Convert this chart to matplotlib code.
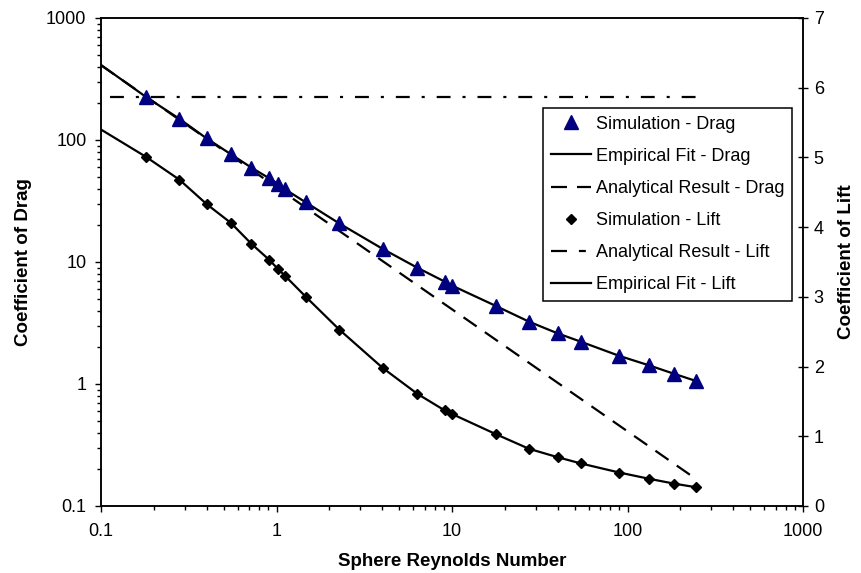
import matplotlib
matplotlib.use("Agg")
import matplotlib.pyplot as plt
from matplotlib.lines import Line2D
from matplotlib.ticker import LogLocator, NullFormatter, FixedLocator

plt.rcParams['font.family'] = ['Liberation Sans', 'DejaVu Sans']
plt.rcParams['lines.scale_dashes'] = False

# Simulation results (sphere Reynolds number, drag and lift coefficients)
re_sim = [0.18, 0.28, 0.40, 0.55, 0.72, 0.91, 1.02, 1.12, 1.47, 2.28, 4.03,
          6.34, 9.1, 10.0, 17.8, 27.5, 40.0, 54.3, 89.8, 133, 185, 245]
cd_sim = [226, 149, 103, 76.4, 59.3, 48.5, 43.6, 39.4, 30.8, 20.7, 12.8,
          8.98, 6.90, 6.41, 4.36, 3.24, 2.60, 2.22, 1.70, 1.42, 1.21, 1.06]
cl_sim = [5.01, 4.68, 4.33, 4.06, 3.76, 3.53, 3.40, 3.30, 3.00, 2.53, 1.98,
          1.61, 1.37, 1.32, 1.03, 0.82, 0.70, 0.61, 0.48, 0.39, 0.32, 0.27]

# Empirical fits
re_fit = [0.10] + re_sim
cd_fit = [412] + cd_sim
cl_fit = [5.40] + cl_sim

# Analytical results
re_an = [0.10, 245]
cd_an = [410, 0.167]
re_an_lift = [0.112, 250]
cl_an = [5.87, 5.87]

fig = plt.figure(figsize=(8.61, 5.73), dpi=100)
ax = fig.add_axes([101/861, 1 - 506/573, 702/861, 488/573])
ax2 = ax.twinx()

lw = 1.6
navy = '#000080'

# Drag on the logarithmic left axis
ax.plot(re_fit, cd_fit, color='black', lw=lw, zorder=2)
ax.plot(re_an, cd_an, color='black', lw=lw, dashes=(11.5, 7.2), zorder=2)
ax.plot(re_sim, cd_sim, linestyle='none', marker='^', ms=9.5, color=navy,
        mec=navy, zorder=3)

# Lift on the linear right axis
ax2.plot(re_fit, cl_fit, color='black', lw=lw, zorder=2)
ax2.plot(re_an_lift, cl_an, color='black', lw=lw,
         dashes=(10, 8.6, 2.2, 8.6), zorder=2)
ax2.plot(re_sim, cl_sim, linestyle='none', marker='D', ms=5.2, color='black',
         zorder=3)

ax.set_xscale('log')
ax.set_yscale('log')
ax.set_xlim(0.1, 1000)
ax.set_ylim(0.1, 1000)
ax2.set_ylim(0, 7)

ax.xaxis.set_major_locator(LogLocator(base=10, numticks=10))
ax.xaxis.set_minor_locator(LogLocator(base=10, subs=range(2, 10), numticks=20))
ax.xaxis.set_minor_formatter(NullFormatter())
ax.yaxis.set_major_locator(LogLocator(base=10, numticks=10))
ax.yaxis.set_minor_locator(LogLocator(base=10, subs=range(2, 10), numticks=20))
ax.yaxis.set_minor_formatter(NullFormatter())

ax.set_xticks([0.1, 1, 10, 100, 1000])
ax.set_xticklabels(['0.1', '1', '10', '100', '1000'])
ax.set_yticks([0.1, 1, 10, 100, 1000])
ax.set_yticklabels(['0.1', '1', '10', '100', '1000'])
ax2.yaxis.set_major_locator(FixedLocator(range(0, 8)))

ax.tick_params(axis='both', which='major', direction='out', length=4.5,
               width=1, labelsize=13, pad=6, color='black')
ax.tick_params(axis='both', which='minor', direction='out', length=3,
               width=1, color='black')
ax.tick_params(axis='x', which='major', pad=8)
ax2.tick_params(axis='y', which='major', direction='inout', length=7.5,
                width=1, labelsize=13, pad=4)

for a in (ax, ax2):
    for s in a.spines.values():
        s.set_linewidth(1.1)
        s.set_color('black')

ax.set_xlabel('Sphere Reynolds Number', fontsize=13.5, fontweight='bold',
              labelpad=9)
ax.set_ylabel('Coefficient of Drag', fontsize=13.5, fontweight='bold',
              labelpad=10)
ax2.set_ylabel('Coefficient of Lift', fontsize=13.5, fontweight='bold',
               labelpad=10)

handles = [
    Line2D([], [], linestyle='none', marker='^', ms=9.5, color=navy),
    Line2D([], [], color='black', lw=lw),
    Line2D([], [], color='black', lw=lw, dashes=(11.5, 7.2)),
    Line2D([], [], linestyle='none', marker='D', ms=5.2, color='black'),
    Line2D([], [], color='black', lw=lw, dashes=(11.5, 8.6, 5, 8.6)),
    Line2D([], [], color='black', lw=lw),
]
labels = ['Simulation - Drag', 'Empirical Fit - Drag',
          'Analytical Result - Drag', 'Simulation - Lift',
          'Analytical Result - Lift', 'Empirical Fit - Lift']
leg = ax2.legend(handles, labels, loc='upper right',
                 bbox_to_anchor=(792/861, 1 - 108/573),
                 bbox_transform=fig.transFigure,
                 fontsize=13, frameon=True, fancybox=False, shadow=False,
                 edgecolor='black', framealpha=1, handlelength=2.2,
                 handletextpad=0.3, labelspacing=0.84, borderpad=0.42,
                 borderaxespad=0)
leg.get_frame().set_linewidth(1.1)

fig.savefig('out.png', dpi=100)
